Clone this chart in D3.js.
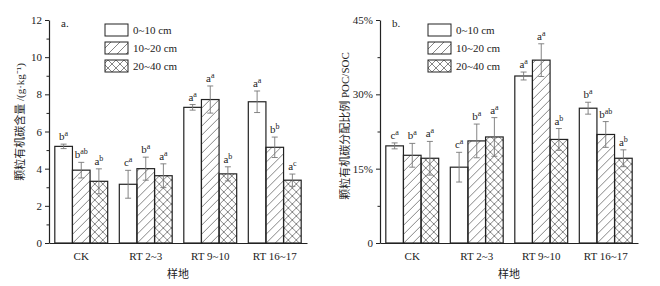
<!DOCTYPE html>
<html>
<head>
<meta charset="utf-8">
<script src="https://cdn.jsdelivr.net/npm/d3@7"></script>
<style>
  body { margin: 0; background: #fff; }
  svg text { font-family: "Liberation Serif", "Times New Roman", "DejaVu Serif", serif; fill: #222; }
  svg text.cjk { font-family: "Liberation Serif", "Times New Roman", serif, "Noto Sans CJK SC"; }
</style>
</head>
<body>
<div id="chart"></div>
<script>
const sites = ['CK', 'RT 2~3', 'RT 9~10', 'RT 16~17'];
const depths = ['0~10 cm', '10~20 cm', '20~40 cm'];

// panel a: POC content (g/kg), per site: [0-10, 10-20, 20-40]
const pocMean = [[5.2, 3.92, 3.32], [3.16, 4.0, 3.62], [7.3, 7.72, 3.72], [7.6, 5.15, 3.38]];
const pocErr = [[0.12, 0.42, 0.67], [0.75, 0.62, 0.64], [0.15, 0.73, 0.38], [0.58, 0.55, 0.33]];
const pocLetter = [['b', 'b', 'a'], ['c', 'b', 'a'], ['a', 'a', 'a'], ['a', 'b', 'a']];
const pocSup = [['a', 'ab', 'b'], ['a', 'a', 'a'], ['a', 'a', 'b'], ['a', 'b', 'c']];
const pocTicks = [0, 2, 4, 6, 8, 10, 12];

// panel b: POC/SOC ratio
const ratioMean = [[0.196, 0.177, 0.171], [0.153, 0.206, 0.214], [0.337, 0.369, 0.209], [0.272, 0.219, 0.171]];
const ratioErr = [[0.006, 0.024, 0.034], [0.030, 0.034, 0.039], [0.008, 0.033, 0.022], [0.012, 0.026, 0.017]];
const ratioLetter = [['c', 'b', 'a'], ['c', 'b', 'a'], ['a', 'a', 'a'], ['b', 'b', 'a']];
const ratioSup = [['a', 'a', 'a'], ['a', 'a', 'a'], ['a', 'a', 'b'], ['a', 'ab', 'b']];
const ratioTicks = [0, 0.15, 0.30, 0.45];

const width = 660;
const height = 286;

const svg = d3.select('#chart')
  .append('svg')
  .attr('width', width)
  .attr('height', height);

// fill patterns
const defs = svg.append('defs');
defs.append('pattern')
  .attr('id', 'hatch')
  .attr('patternUnits', 'userSpaceOnUse')
  .attr('width', 9)
  .attr('height', 9)
  .append('path')
  .attr('d', 'M-2,2 l4,-4 M0,9 l9,-9 M7,11 l4,-4')
  .attr('stroke', '#333')
  .attr('stroke-width', 0.6);
const cross = defs.append('pattern')
  .attr('id', 'cross')
  .attr('patternUnits', 'userSpaceOnUse')
  .attr('width', 8)
  .attr('height', 8);
cross.append('path')
  .attr('d', 'M-2,2 l4,-4 M0,8 l8,-8 M6,10 l4,-4 M-2,6 l4,4 M0,0 l8,8 M6,-2 l4,4')
  .attr('stroke', '#333')
  .attr('stroke-width', 0.6);

const fills = ['#fff', 'url(#hatch)', 'url(#cross)'];

const drawPanel = (opt) => {
  const g = svg.append('g');
  const x0 = d3.scaleBand()
    .domain(sites)
    .range([opt.left, opt.right])
    .paddingInner(0.18)
    .paddingOuter(0.09);
  const x1 = d3.scaleBand()
    .domain(depths)
    .range([0, x0.bandwidth()]);
  const y = d3.scaleLinear()
    .domain([0, opt.max])
    .range([243, 20]);

  // bars
  sites.forEach((s, i) => {
    const grp = g.append('g').attr('transform', `translate(${x0(s)},0)`);
    depths.forEach((dp, j) => {
      const v = opt.mean[i][j];
      const e = opt.err[i][j];
      const bx = x1(dp);
      const cx = bx + x1.bandwidth() / 2;
      grp.append('rect')
        .attr('x', bx)
        .attr('y', y(v))
        .attr('width', x1.bandwidth())
        .attr('height', y(0) - y(v))
        .attr('fill', fills[j])
        .attr('stroke', '#222')
        .attr('stroke-width', 1.2);
      // error bar
      const eb = grp.append('g').attr('stroke', '#777').attr('stroke-width', 0.9);
      eb.append('line').attr('x1', cx).attr('x2', cx).attr('y1', y(v + e)).attr('y2', y(v - e));
      eb.append('line').attr('x1', cx - 3).attr('x2', cx + 3).attr('y1', y(v + e)).attr('y2', y(v + e));
      eb.append('line').attr('x1', cx - 3).attr('x2', cx + 3).attr('y1', y(v - e)).attr('y2', y(v - e));
      // significance letters
      const t = grp.append('text')
        .attr('x', cx)
        .attr('y', y(v + e) - 4)
        .attr('text-anchor', 'middle')
        .attr('font-size', 11);
      t.append('tspan').text(opt.letter[i][j]);
      t.append('tspan').attr('dy', -4).attr('font-size', 8).text(opt.sup[i][j]);
    });
  });

  // y axis with minor ticks
  const minor = d3.range(0, opt.ticks.length - 1).map((k) => (opt.ticks[k] + opt.ticks[k + 1]) / 2);
  g.append('g')
    .attr('transform', `translate(${opt.left},0)`)
    .call(d3.axisLeft(y).tickValues(minor).tickSize(2.5).tickFormat(''))
    .call((a) => a.select('.domain').remove())
    .selectAll('line').attr('stroke', '#222');
  const ay = g.append('g')
    .attr('transform', `translate(${opt.left},0)`)
    .call(d3.axisLeft(y).tickValues(opt.ticks).tickSize(4).tickSizeOuter(0).tickPadding(3).tickFormat(opt.fmt));
  ay.attr('font-family', null);
  ay.select('.domain').attr('stroke', '#222').attr('stroke-width', 1.2);
  ay.selectAll('line').attr('stroke', '#222');
  ay.selectAll('text').attr('font-size', 11).attr('fill', '#222');

  // x axis: baseline with category labels, no ticks
  const ax = g.append('g')
    .attr('transform', `translate(0,${y(0)})`)
    .call(d3.axisBottom(x0).tickSize(0).tickPadding(9));
  ax.attr('font-family', null);
  ax.select('.domain').attr('stroke', '#222').attr('stroke-width', 1.2);
  ax.selectAll('text').attr('font-size', 11).attr('fill', '#222');

  g.append('text')
    .attr('class', 'cjk')
    .attr('x', (opt.left + opt.right) / 2)
    .attr('y', 278)
    .attr('text-anchor', 'middle')
    .attr('font-size', 11)
    .text('样地');

  g.append('text')
    .attr('class', 'cjk')
    .attr('transform', `translate(${opt.labelX},${opt.labelY}) rotate(-90)`)
    .attr('text-anchor', 'middle')
    .attr('font-size', 11)
    .text(opt.ylabel);

  g.append('text')
    .attr('x', opt.left + 12)
    .attr('y', 27)
    .attr('font-size', 11)
    .text(opt.tag);

  // legend
  depths.forEach((dp, j) => {
    const ly = 24 + j * 18;
    g.append('rect')
      .attr('x', opt.legendX)
      .attr('y', ly)
      .attr('width', 23)
      .attr('height', 12)
      .attr('fill', fills[j])
      .attr('stroke', '#222')
      .attr('stroke-width', 1);
    g.append('text')
      .attr('x', opt.legendX + 28)
      .attr('y', ly + 10)
      .attr('font-size', 11)
      .text(dp);
  });
};

drawPanel({
  left: 49,
  right: 307,
  max: 12,
  mean: pocMean,
  err: pocErr,
  letter: pocLetter,
  sup: pocSup,
  ticks: pocTicks,
  fmt: d3.format('d'),
  ylabel: '颗粒有机碳含量 /(g·kg⁻¹)',
  labelX: 24,
  labelY: 122,
  tag: 'a.',
  legendX: 105,
});

drawPanel({
  left: 380,
  right: 638,
  max: 0.45,
  mean: ratioMean,
  err: ratioErr,
  letter: ratioLetter,
  sup: ratioSup,
  ticks: ratioTicks,
  fmt: (d) => (d === 0 ? '0' : d3.format('.0%')(d)),
  ylabel: '颗粒有机碳分配比例 POC/SOC',
  labelX: 349,
  labelY: 126,
  tag: 'b.',
  legendX: 428,
});
</script>
</body>
</html>
